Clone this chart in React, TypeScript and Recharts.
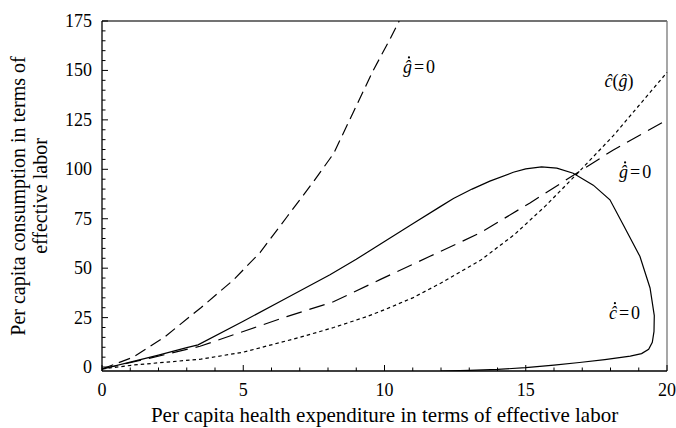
import { LineChart, Line, XAxis, YAxis, ReferenceLine, ReferenceDot } from 'recharts'

// axis ticks (major every 5 on x, every 25 on y)
const xTicks = [0, 1, 2, 3, 4, 5, 6, 7, 8, 9, 10, 11, 12, 13, 14, 15, 16, 17, 18, 19, 20]
const yTicks = [
  0, 5, 10, 15, 20, 25, 30, 35, 40, 45, 50, 55, 60, 65, 70, 75, 80, 85, 90, 95, 100,
  105, 110, 115, 120, 125, 130, 135, 140, 145, 150, 155, 160, 165, 170, 175,
]
const xMajor = [0, 5, 10, 15, 20]
const yMajor = [0, 25, 50, 75, 100, 125, 150, 175]

// g-dot = 0, steep branch
const gUpperX = [0, 1.1, 2.2, 3.5, 4.65, 5.6, 6.55, 7.5, 8.2, 8.9, 9.6, 10.2, 10.52]
const gUpperY = [-1, 5, 15, 30, 44, 58, 76, 94, 108, 129, 150, 166, 175]

// c-dot = 0, closed loop
const cDotX = [
  0, 1, 2, 3, 3.4, 5, 6.42, 8.07, 9, 10, 11, 11.96, 12.44, 13.1, 13.73, 14.56, 15, 15.56,
  16.1, 16.68, 17.39, 17.98, 18.45, 19.04, 19.4, 19.55, 19.54, 19.48, 19.35, 19.1, 18.7,
  17.8, 16.9, 16, 15, 14, 13, 12,
]
const cDotY = [
  -1, 2.5, 6, 9.8, 11.2, 23.2, 34, 46.7, 54.5, 63.5, 72.5, 81, 85.2, 90, 94, 98.5, 100.2,
  101.2, 100.6, 98, 92, 84.6, 72, 56, 40, 26, 18, 12.5, 9, 6.8, 5.5, 3.8, 2.3, 1, -0.3,
  -1.2, -1.7, -2,
]

// g-dot = 0, lower branch
const gLowerX = [0, 1.7, 3.47, 5, 6.54, 8.19, 9.84, 11.61, 13.38, 15.15, 16.8, 18.1, 20]
const gLowerY = [-1, 4.5, 10.5, 18, 25.5, 33, 44.2, 56, 67.8, 83, 98, 109.8, 125]

// c-hat(g-hat)
const cHatX = [0, 1.1, 2.3, 3.5, 5, 7, 8.2, 9.37, 10, 11, 12, 13.4, 14.6, 15.7, 16.8, 18.1, 20]
const cHatY = [-1, 1, 2.5, 4, 7.5, 15, 20, 25.5, 29, 35, 42.5, 54, 67, 81.5, 97.5, 117, 149]

// in-plot notes
const noteKind = ['gdot', 'chat', 'gdot', 'cdot']
const noteX = [11.22, 18.3, 18.87, 18.51]
const noteY = [151.8, 144.7, 98.7, 27.5]

const zip = (xs: number[], ys: number[]) => xs.map((x, i) => ({ x, y: ys[i] }))

const gUpper = zip(gUpperX, gUpperY)
const cDot = zip(cDotX, cDotY)
const gLower = zip(gLowerX, gLowerY)
const cHat = zip(cHatX, cHatY)

const FONT = '"Liberation Serif", "Times New Roman", serif'
const txt = { fontFamily: FONT, fill: '#000' }

function XTick({ x, y, payload }: any) {
  const major = xMajor.includes(payload.value)
  return (
    <g>
      <line x1={x} y1={y} x2={x} y2={y - (major ? 6 : 3.5)} stroke="#000" strokeWidth={1} />
      {major && (
        <text x={x} y={y + 25} textAnchor="middle" fontSize={18} style={txt}>
          {payload.value}
        </text>
      )}
    </g>
  )
}

function YTick({ x, y, payload }: any) {
  const major = yMajor.includes(payload.value)
  return (
    <g>
      <line x1={x} y1={y} x2={x + (major ? 6 : 3.5)} y2={y} stroke="#000" strokeWidth={1} />
      {major && (
        <text x={x - 10} y={y + 6} textAnchor="end" fontSize={18} style={txt}>
          {payload.value}
        </text>
      )}
    </g>
  )
}

// time-derivative dot over the hat is drawn as a tiny circle
function Note({ cx, cy, kind }: any) {
  if (kind === 'chat') {
    return (
      <text x={cx} y={cy + 6} textAnchor="middle" fontSize={18} style={txt}>
        <tspan fontStyle="italic">ĉ</tspan>(<tspan fontStyle="italic">ĝ</tspan>)
      </text>
    )
  }
  const base = kind === 'gdot' ? 'ĝ' : 'ĉ'
  const x0 = cx - 16
  return (
    <g>
      <text x={x0} y={cy + 6} fontSize={18} style={txt}>
        <tspan fontStyle="italic">{base}</tspan>
        <tspan dx={2}>=</tspan>
        <tspan dx={2}>0</tspan>
      </text>
      <circle cx={x0 + 6} cy={cy - 9.5} r={1.1} fill="#000" />
    </g>
  )
}

function XTitle({ viewBox }: any) {
  return (
    <text x={viewBox.x + viewBox.width / 2} y={422} textAnchor="middle" fontSize={21} style={txt}>
      Per capita health expenditure in terms of effective labor
    </text>
  )
}

function YTitle({ viewBox }: any) {
  const cy = viewBox.y + viewBox.height / 2
  return (
    <g fontSize={20} style={txt}>
      <text x={18} y={cy} transform={`rotate(-90 18 ${cy})`} textAnchor="middle" dominantBaseline="central">
        Per capita consumption in terms of
      </text>
      <text x={40} y={cy} transform={`rotate(-90 40 ${cy})`} textAnchor="middle" dominantBaseline="central">
        effective labor
      </text>
    </g>
  )
}

export default function App() {
  return (
    <div style={{ position: 'absolute', left: 0, top: 0, background: '#fff' }}>
      <LineChart width={676} height={428} margin={{ top: 21, right: 9, left: 0, bottom: 0 }}>
        <XAxis
          dataKey="x"
          type="number"
          domain={[0, 20]}
          ticks={xTicks}
          interval={0}
          tickSize={0}
          tickMargin={0}
          tickLine={false}
          height={57}
          axisLine={{ stroke: '#000', strokeWidth: 1.3 }}
          tick={<XTick />}
          label={<XTitle />}
        />
        <YAxis
          type="number"
          domain={[-2, 175]}
          allowDataOverflow
          ticks={yTicks}
          interval={0}
          tickSize={0}
          tickMargin={0}
          tickLine={false}
          width={102}
          axisLine={{ stroke: '#000', strokeWidth: 1.3 }}
          tick={<YTick />}
          label={<YTitle />}
        />
        <ReferenceLine y={175} stroke="#444" strokeWidth={1.3} />
        <ReferenceLine x={20} stroke="#777" strokeWidth={1.3} />
        <Line
          data={gUpper}
          dataKey="y"
          type="linear"
          stroke="#000"
          strokeWidth={1.2}
          strokeDasharray="12 6"
          dot={false}
          activeDot={false}
          isAnimationActive={false}
        />
        <Line
          data={cDot}
          dataKey="y"
          type="linear"
          stroke="#000"
          strokeWidth={1.2}
          dot={false}
          activeDot={false}
          isAnimationActive={false}
        />
        <Line
          data={gLower}
          dataKey="y"
          type="linear"
          stroke="#000"
          strokeWidth={1.2}
          strokeDasharray="16 8"
          dot={false}
          activeDot={false}
          isAnimationActive={false}
        />
        <Line
          data={cHat}
          dataKey="y"
          type="linear"
          stroke="#000"
          strokeWidth={1.2}
          strokeDasharray="3.5 3"
          dot={false}
          activeDot={false}
          isAnimationActive={false}
        />
        {noteKind.map((k, i) => (
          <ReferenceDot
            key={i}
            x={noteX[i]}
            y={noteY[i]}
            r={0}
            shape={(p: any) => <Note cx={p.cx} cy={p.cy} kind={k} />}
          />
        ))}
      </LineChart>
    </div>
  )
}
